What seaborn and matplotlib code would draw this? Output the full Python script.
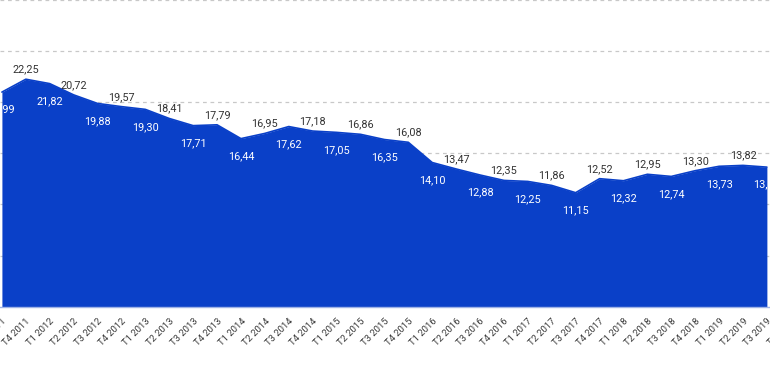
import matplotlib
matplotlib.use("Agg")
import matplotlib.pyplot as plt
import seaborn as sns
import pandas as pd
import numpy as np

quarters = ["T3 2011", "T4 2011",
            "T1 2012", "T2 2012", "T3 2012", "T4 2012",
            "T1 2013", "T2 2013", "T3 2013", "T4 2013",
            "T1 2014", "T2 2014", "T3 2014", "T4 2014",
            "T1 2015", "T2 2015", "T3 2015", "T4 2015",
            "T1 2016", "T2 2016", "T3 2016", "T4 2016",
            "T1 2017", "T2 2017", "T3 2017", "T4 2017",
            "T1 2018", "T2 2018", "T3 2018", "T4 2018",
            "T1 2019", "T2 2019", "T3 2019", "T4 2019"]
values = [20.99, 22.25, 21.82, 20.72, 19.88, 19.57, 19.30, 18.41, 17.71, 17.79,
          16.44, 16.95, 17.62, 17.18, 17.05, 16.86, 16.35, 16.08, 14.10, 13.47,
          12.88, 12.35, 12.25, 11.86, 11.15, 12.52, 12.32, 12.95, 12.74, 13.30,
          13.73, 13.82, 13.65]

sns.set_theme(style="white")
plt.rcParams['font.family'] = ['Roboto', 'DejaVu Sans']

df = pd.DataFrame({"pos": np.arange(len(values)), "value": values,
                   "quarter": quarters[:len(values)]})

BLUE = "#0a40c8"
fig = plt.figure(figsize=(7.7, 3.8), dpi=100)
ax = fig.add_axes([0, 0.193, 1, 0.807])

for g in [5, 10, 15, 20, 25, 30]:
    ax.axhline(g, color="#c8c8c8", lw=0.9, ls=(0, (3, 3)), zorder=0)

ax.fill_between(df["pos"], 0, df["value"], color=BLUE, lw=0, zorder=2)
sns.lineplot(data=df, x="pos", y="value", color=BLUE, lw=1.2, ax=ax, zorder=3)

for i, (p, v) in enumerate(zip(df["pos"], df["value"])):
    txt = f"{v:.2f}".replace(".", ",")
    if i % 2 == 1:
        ax.annotate(txt, (p, v), xytext=(0, 3.5), textcoords="offset points",
                    ha="center", va="bottom", fontsize=7.8, color="#333333", zorder=5)
    else:
        ax.annotate(txt, (p, v), xytext=(0, -9), textcoords="offset points",
                    ha="center", va="top", fontsize=7.8, color="white", zorder=5)

TICK_FS = 6.8
TICK_COLOR = "#3a3a3a"
ax.set_xticks(np.arange(len(quarters)))
ax.set_xticklabels(quarters, rotation=45, ha="right", rotation_mode="anchor",
                   fontsize=TICK_FS, color=TICK_COLOR)
ax.tick_params(axis="x", length=0, pad=7)
ax.set_yticks([])
ax.set_xlim(-0.08, 32.13)
ax.set_ylim(0, 30)
ax.set_xlabel("")
ax.set_ylabel("")

# category beyond the visible range: its label is only partly visible
ax.annotate(quarters[-1], (len(quarters) - 1, 0), xycoords=("data", "axes fraction"),
            xytext=(0, -7), textcoords="offset points", rotation=45,
            rotation_mode="anchor", ha="right", va="top", fontsize=TICK_FS,
            color=TICK_COLOR, annotation_clip=False)

for s in ["top", "left", "right"]:
    ax.spines[s].set_visible(False)
ax.spines["bottom"].set_color("#9fb3e6")
ax.spines["bottom"].set_linewidth(1.0)

fig.savefig("out.png", dpi=100)
